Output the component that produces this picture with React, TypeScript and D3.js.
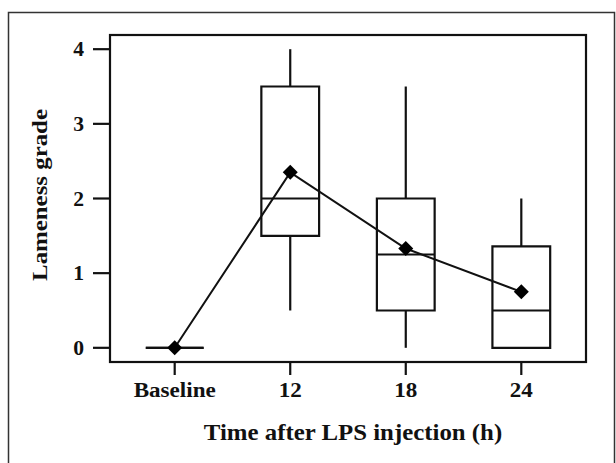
import React from "react";
import { scalePoint, scaleLinear, line } from "d3";

const categories = ["Baseline", "12", "18", "24"];
const whiskerLow = [0, 0.5, 0, 0];
const q1 = [0, 1.5, 0.5, 0];
const median = [0, 2, 1.25, 0.5];
const q3 = [0, 3.5, 2, 1.36];
const whiskerHigh = [0, 4, 3.5, 2];
const means = [0, 2.35, 1.33, 0.75];
const yTicks = [0, 1, 2, 3, 4];

const ink = "#111";

export default function App() {
  const width = 616;
  const height = 463;
  const margin = { top: 35, right: 30, bottom: 101, left: 110 };
  const x0 = margin.left;
  const x1 = width - margin.right;
  const y0 = height - margin.bottom;
  const y1 = margin.top;

  const xScale = scalePoint<string>().domain(categories).range([x0, x1]).padding(0.56);
  const yScale = scaleLinear().domain([-0.19, 4.19]).range([y0, y1]);
  const boxW = xScale.step() * 0.5;

  const meanLine = line<number>()
    .x((_, i) => xScale(categories[i]) as number)
    .y((d) => yScale(d));

  const font = "Liberation Serif";

  return (
    <svg
      width={width}
      height={height}
      style={{ position: "absolute", left: 0, top: 0, background: "#fff" }}
    >
      <rect x={8.5} y={12.5} width={606} height={470} fill="none" stroke="#333" strokeWidth={1.5} />

      {/* plot frame */}
      <rect x={x0} y={y1} width={x1 - x0} height={y0 - y1} fill="none" stroke={ink} strokeWidth={2.2} />

      {/* y axis */}
      {yTicks.map((t) => (
        <g key={t}>
          <line x1={x0 - 17} x2={x0} y1={yScale(t)} y2={yScale(t)} stroke={ink} strokeWidth={2.2} />
          <text
            transform={`translate(84,${yScale(t) + 7}) scale(1.08,1)`}
            textAnchor="end"
            fontFamily={font}
            fontWeight="bold"
            fontSize={20}
            fill={ink}
          >
            {t}
          </text>
        </g>
      ))}

      {/* x axis */}
      {categories.map((c) => {
        const cx = xScale(c) as number;
        return (
          <g key={c}>
            <line x1={cx} x2={cx} y1={y0} y2={y0 + 13} stroke={ink} strokeWidth={2.2} />
            <text
              transform={`translate(${cx},${396.5}) scale(1.05,1)`}
              textAnchor="middle"
              fontFamily={font}
              fontWeight="bold"
              fontSize={22}
              fill={ink}
            >
              {c}
            </text>
          </g>
        );
      })}

      {/* boxes */}
      {categories.map((c, i) => {
        const cx = xScale(c) as number;
        const l = cx - boxW / 2;
        const r = cx + boxW / 2;
        return (
          <g key={"box" + c} stroke={ink} strokeWidth={2.2} fill="none">
            <line x1={cx} x2={cx} y1={yScale(q3[i])} y2={yScale(whiskerHigh[i])} />
            <line x1={cx} x2={cx} y1={yScale(q1[i])} y2={yScale(whiskerLow[i])} />
            <path d={`M${l},${yScale(q3[i])}H${r}V${yScale(q1[i])}H${l}Z`} />
            <line x1={l} x2={r} y1={yScale(median[i])} y2={yScale(median[i])} />
          </g>
        );
      })}

      {/* mean line */}
      <path d={meanLine(means) || ""} fill="none" stroke={ink} strokeWidth={2} />
      {means.map((m, i) => {
        const cx = xScale(categories[i]) as number;
        const cy = yScale(m);
        const s = 7.5;
        return (
          <path
            key={"m" + i}
            d={`M${cx},${cy - s}L${cx + s},${cy}L${cx},${cy + s}L${cx - s},${cy}Z`}
            fill="#000"
          />
        );
      })}

      {/* axis titles */}
      <text
        transform={`translate(353,439.5) scale(1.08,1)`}
        textAnchor="middle"
        fontFamily={font}
        fontWeight="bold"
        fontSize={23}
        fill={ink}
      >
        Time after LPS injection (h)
      </text>
      <text
        transform={`translate(47,195) rotate(-90) scale(1.13,1)`}
        textAnchor="middle"
        fontFamily={font}
        fontWeight="bold"
        fontSize={22}
        fill={ink}
      >
        Lameness grade
      </text>
    </svg>
  );
}
